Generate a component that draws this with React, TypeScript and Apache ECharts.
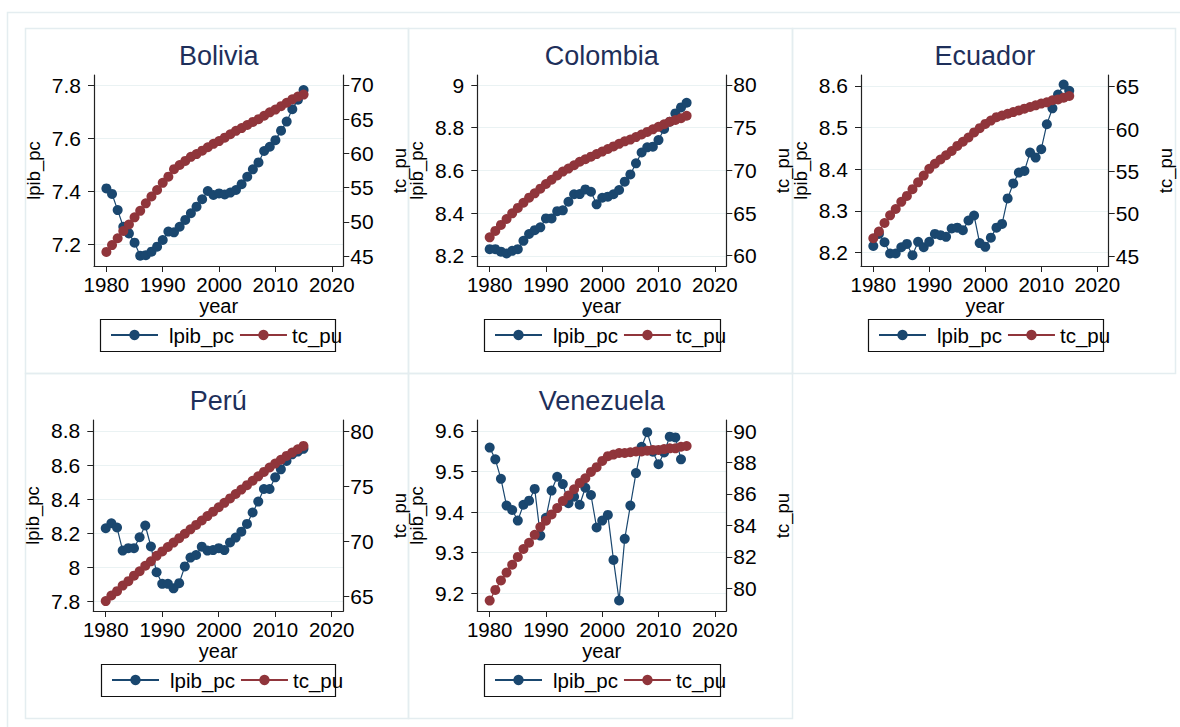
import React, { useEffect, useRef } from "react";
import * as echarts from "echarts";

// ---------- DATA ----------
const years = [
  1980, 1981, 1982, 1983, 1984, 1985, 1986, 1987, 1988, 1989,
  1990, 1991, 1992, 1993, 1994, 1995, 1996, 1997, 1998, 1999,
  2000, 2001, 2002, 2003, 2004, 2005, 2006, 2007, 2008, 2009,
  2010, 2011, 2012, 2013, 2014, 2015,
];
const xTicks = [1980, 1990, 2000, 2010, 2020];

const boliviaLpib = [7.41, 7.389, 7.328, 7.265, 7.24, 7.205, 7.156, 7.158, 7.171, 7.19, 7.215, 7.247, 7.244, 7.265, 7.291, 7.316, 7.341, 7.369, 7.4, 7.385, 7.391, 7.387, 7.394, 7.404, 7.426, 7.454, 7.482, 7.508, 7.551, 7.567, 7.592, 7.628, 7.662, 7.709, 7.745, 7.781];
const boliviaTc = [45.6, 46.6, 47.6, 48.65, 49.6, 50.65, 51.6, 52.7, 53.7, 54.65, 55.7, 56.6, 57.7, 58.3, 58.9, 59.5, 59.9, 60.4, 60.9, 61.4, 61.8, 62.3, 62.8, 63.3, 63.7, 64.15, 64.6, 65.0, 65.5, 66.0, 66.4, 66.9, 67.4, 67.9, 68.3, 68.6];

const colombiaLpib = [8.231, 8.231, 8.219, 8.211, 8.223, 8.231, 8.27, 8.302, 8.32, 8.333, 8.375, 8.375, 8.409, 8.413, 8.453, 8.488, 8.489, 8.511, 8.5, 8.441, 8.472, 8.477, 8.488, 8.508, 8.547, 8.581, 8.633, 8.684, 8.708, 8.711, 8.742, 8.794, 8.828, 8.867, 8.895, 8.917];
const colombiaTc = [62.15, 62.9, 63.6, 64.3, 64.96, 65.6, 66.2, 66.8, 67.3, 67.85, 68.4, 68.9, 69.4, 69.85, 70.2, 70.6, 71.0, 71.3, 71.6, 71.9, 72.2, 72.5, 72.8, 73.1, 73.4, 73.6, 73.9, 74.2, 74.5, 74.8, 75.1, 75.4, 75.7, 75.9, 76.1, 76.4];

const ecuadorLpib = [8.216, 8.245, 8.225, 8.198, 8.198, 8.213, 8.221, 8.194, 8.226, 8.213, 8.226, 8.245, 8.242, 8.238, 8.258, 8.26, 8.254, 8.277, 8.289, 8.223, 8.214, 8.236, 8.26, 8.269, 8.33, 8.366, 8.392, 8.396, 8.44, 8.428, 8.448, 8.508, 8.546, 8.579, 8.603, 8.588];
const ecuadorTc = [47.1, 47.9, 48.9, 49.8, 50.55, 51.4, 52.1, 52.9, 53.7, 54.5, 55.3, 55.9, 56.4, 56.9, 57.4, 58.0, 58.5, 59.0, 59.6, 60.1, 60.6, 61.0, 61.4, 61.6, 61.8, 62.0, 62.2, 62.4, 62.6, 62.8, 63.0, 63.15, 63.4, 63.5, 63.7, 63.9];

const peruLpib = [8.23, 8.259, 8.234, 8.099, 8.113, 8.113, 8.177, 8.246, 8.123, 7.972, 7.904, 7.904, 7.878, 7.908, 8.006, 8.058, 8.073, 8.122, 8.099, 8.102, 8.113, 8.102, 8.147, 8.175, 8.21, 8.255, 8.322, 8.386, 8.46, 8.46, 8.528, 8.575, 8.624, 8.663, 8.679, 8.695];
const peruTc = [64.6, 65.1, 65.5, 66.0, 66.4, 66.9, 67.3, 67.8, 68.2, 68.7, 69.1, 69.5, 69.9, 70.3, 70.7, 71.1, 71.5, 71.9, 72.3, 72.7, 73.1, 73.5, 73.9, 74.3, 74.7, 75.1, 75.5, 75.9, 76.3, 76.7, 77.05, 77.4, 77.75, 78.05, 78.35, 78.65];

const venezuelaLpib = [9.559, 9.53, 9.482, 9.416, 9.405, 9.379, 9.418, 9.428, 9.457, 9.342, 9.386, 9.453, 9.487, 9.469, 9.422, 9.438, 9.418, 9.46, 9.442, 9.362, 9.379, 9.393, 9.282, 9.182, 9.334, 9.416, 9.496, 9.561, 9.597, 9.549, 9.518, 9.547, 9.586, 9.584, 9.53, null];
const venezuelaTc = [79.22, 79.9, 80.5, 81.0, 81.5, 82.0, 82.5, 82.9, 83.4, 83.9, 84.3, 84.7, 85.1, 85.55, 85.9, 86.3, 86.7, 87.0, 87.4, 87.7, 88.1, 88.4, 88.5, 88.6, 88.6, 88.65, 88.7, 88.7, 88.75, 88.8, 88.8, 88.85, 88.9, 88.9, 89.0, 89.05];

const countryNames = ["Bolivia", "Colombia", "Ecuador", "Perú", "Venezuela"];
const lpibSeries = [boliviaLpib, colombiaLpib, ecuadorLpib, peruLpib, venezuelaLpib];
const tcSeries = [boliviaTc, colombiaTc, ecuadorTc, peruTc, venezuelaTc];

const lpibTicks = [
  [7.2, 7.4, 7.6, 7.8],
  [8.2, 8.4, 8.6, 8.8, 9],
  [8.2, 8.3, 8.4, 8.5, 8.6],
  [7.8, 8, 8.2, 8.4, 8.6, 8.8],
  [9.2, 9.3, 9.4, 9.5, 9.6],
];
const tcTicks = [
  [45, 50, 55, 60, 65, 70],
  [60, 65, 70, 75, 80],
  [45, 50, 55, 60, 65],
  [65, 70, 75, 80],
  [80, 82, 84, 86, 88, 90],
];
const lpibRange = [
  [7.117, 7.838],
  [8.152, 9.047],
  [8.168, 8.626],
  [7.745, 8.864],
  [9.156, 9.627],
];
const tcRange = [
  [43.54, 71.46],
  [58.79, 81.17],
  [43.82, 66.38],
  [63.7, 81.0],
  [78.56, 90.7],
];
const xRange = [1977.8, 2022.05];

// ---------- LAYOUT ----------
const layouts = [
  { grid: { left: 94, top: 75, width: 249.3, height: 191 }, box: [25, 28, 383, 345], legend: [100, 319, 235, 32] },
  { grid: { left: 477.3, top: 75, width: 249, height: 191 }, box: [408, 28, 384, 345], legend: [484, 319, 236, 32] },
  { grid: { left: 861, top: 75, width: 247.7, height: 191 }, box: [792, 28, 383, 345], legend: [868, 319, 235, 32] },
  { grid: { left: 93.3, top: 420, width: 250, height: 191 }, box: [25, 373, 383, 345], legend: [101, 664, 234, 32] },
  { grid: { left: 477.3, top: 420, width: 249, height: 191 }, box: [408, 373, 384, 345], legend: [484, 664, 236, 32] },
];

const NAVY = "#1a476f";
const MAROON = "#90353b";
const FONT = "'Liberation Sans', Arial, Helvetica, sans-serif";
const fmt = (v: number) => String(+(+v).toFixed(3));

function buildOption() {
  const grids: any[] = [];
  const xAxes: any[] = [];
  const yAxes: any[] = [];
  const series: any[] = [];
  const titles: any[] = [];
  const legends: any[] = [];
  const graphics: any[] = [
    {
      type: "rect",
      shape: { x: 7.5, y: 12.5, width: 1200, height: 800 },
      style: { fill: "none", stroke: "#e4edf0", lineWidth: 1.5 },
      z: -10,
      silent: true,
    },
  ];

  layouts.forEach((L, i) => {
    grids.push({ ...L.grid, containLabel: false, show: false });
    titles.push({
      text: countryNames[i],
      left: L.grid.left + L.grid.width / 2,
      top: L.grid.top - 33,
      textAlign: "center",
      padding: 0,
      textStyle: { fontFamily: FONT, fontSize: 27, fontWeight: "normal", color: "#1e2f5a" },
    });
    xAxes.push({
      type: "value",
      gridIndex: i,
      min: xRange[0],
      max: xRange[1],
      name: "year",
      nameLocation: "middle",
      nameGap: 25,
      nameTextStyle: { fontFamily: FONT, fontSize: 20, color: "#000" },
      axisLine: { show: true, onZero: false, lineStyle: { color: "#222", width: 1.2 } },
      axisTick: { show: true, length: 6, customValues: xTicks, lineStyle: { color: "#222" } },
      axisLabel: {
        show: true,
        customValues: xTicks,
        margin: 8,
        formatter: (v: number) => String(v),
        fontFamily: FONT,
        fontSize: 20.5,
        color: "#000",
      },
      splitLine: { show: false },
    });
    yAxes.push({
      type: "value",
      gridIndex: i,
      position: "left",
      min: lpibRange[i][0],
      max: lpibRange[i][1],
      name: "lpib_pc",
      nameLocation: "middle",
      nameGap: 51,
      nameTextStyle: { fontFamily: FONT, fontSize: 18.5, color: "#000" },
      axisLine: { show: true, onZero: false, lineStyle: { color: "#222", width: 1.2 } },
      axisTick: { show: true, length: 6, customValues: lpibTicks[i], lineStyle: { color: "#222" } },
      axisLabel: {
        show: true,
        customValues: lpibTicks[i],
        margin: 13,
        formatter: fmt,
        fontFamily: FONT,
        fontSize: 21,
        color: "#000",
      },
      splitLine: { show: true, lineStyle: { color: "#eaf2f3", width: 1.2 } },
    });
    yAxes.push({
      type: "value",
      gridIndex: i,
      position: "right",
      min: tcRange[i][0],
      max: tcRange[i][1],
      name: "tc_pu",
      nameLocation: "middle",
      nameGap: 47,
      nameTextStyle: { fontFamily: FONT, fontSize: 18.5, color: "#000" },
      axisLine: { show: true, onZero: false, lineStyle: { color: "#222", width: 1.2 } },
      axisTick: { show: true, length: 6, customValues: tcTicks[i], lineStyle: { color: "#222" } },
      axisLabel: {
        show: true,
        customValues: tcTicks[i],
        margin: 7,
        formatter: fmt,
        fontFamily: FONT,
        fontSize: 21,
        color: "#000",
      },
      splitLine: { show: false },
    });
    series.push({
      type: "line",
      name: "lpib_pc",
      xAxisIndex: i,
      yAxisIndex: 2 * i,
      data: years.map((y, k) => [y, lpibSeries[i][k]]),
      symbol: "circle",
      symbolSize: 10,
      showSymbol: true,
      showAllSymbol: true,
      connectNulls: false,
      lineStyle: { color: NAVY, width: 1.2 },
      itemStyle: { color: NAVY },
      z: 3,
    });
    series.push({
      type: "line",
      name: "tc_pu",
      xAxisIndex: i,
      yAxisIndex: 2 * i + 1,
      data: years.map((y, k) => [y, tcSeries[i][k]]),
      symbol: "circle",
      symbolSize: 10,
      showSymbol: true,
      showAllSymbol: true,
      lineStyle: { color: MAROON, width: 1.2 },
      itemStyle: { color: MAROON },
      z: 4,
    });
    const [bx, by, bw, bh] = L.box;
    graphics.push({
      type: "rect",
      shape: { x: bx + 0.5, y: by + 0.5, width: bw, height: bh },
      style: { fill: "none", stroke: "#e4edf0", lineWidth: 1.5 },
      z: -5,
      silent: true,
    });
    const [lx, ly, lw, lh] = L.legend;
    graphics.push({
      type: "rect",
      shape: { x: lx + 0.5, y: ly + 0.5, width: lw, height: lh },
      style: { fill: "none", stroke: "#111", lineWidth: 1.2 },
      z: 1,
      silent: true,
    });
    legends.push({
      left: lx + 10,
      top: ly + lh / 2 - 10.5,
      orient: "horizontal",
      padding: 0,
      itemWidth: 47,
      itemHeight: 13,
      itemGap: 5,
      selectedMode: false,
      textStyle: { fontFamily: FONT, fontSize: 20.5, color: "#000" },
      data: [
        { name: "lpib_pc", textStyle: { padding: [0, 0, 0, 6] } },
        { name: "tc_pu" },
      ],
    });
  });

  return {
    animation: false,
    backgroundColor: "#ffffff",
    title: titles,
    legend: legends,
    grid: grids,
    xAxis: xAxes,
    yAxis: yAxes,
    series,
    graphic: graphics,
  };
}

export default function App() {
  const ref = useRef<HTMLDivElement>(null);
  useEffect(() => {
    if (!ref.current) return;
    const chart = echarts.init(ref.current, undefined, { renderer: "svg" });
    chart.setOption(buildOption() as any);
    return () => chart.dispose();
  }, []);
  return (
    <div
      ref={ref}
      style={{ position: "fixed", left: 0, top: 0, width: 1180, height: 727, background: "#fff" }}
    />
  );
}
